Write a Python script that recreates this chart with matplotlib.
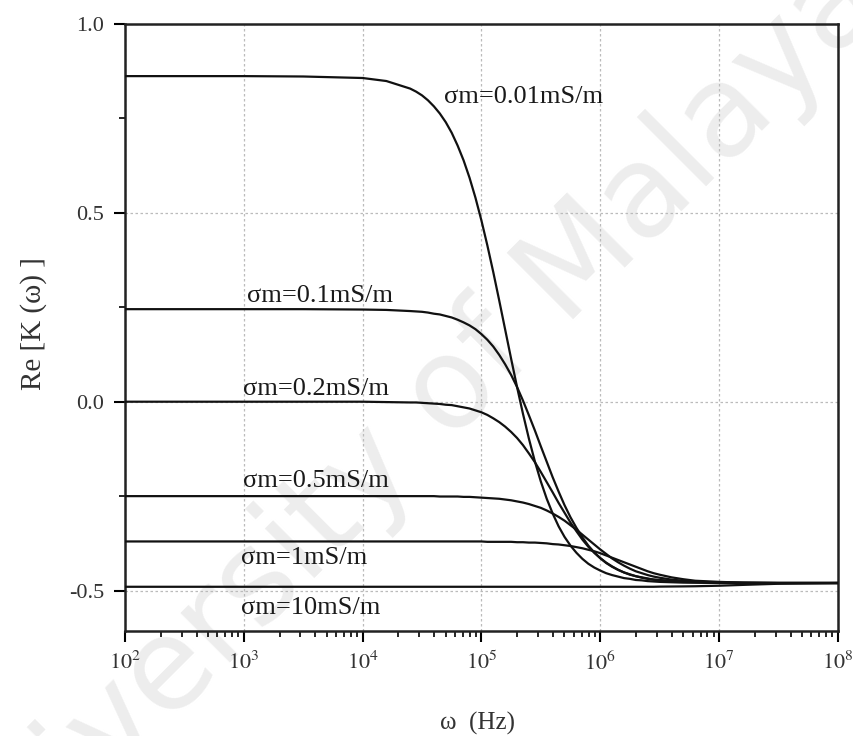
import matplotlib
matplotlib.use("Agg")
import matplotlib.pyplot as plt
from matplotlib.ticker import LogLocator, NullFormatter, MultipleLocator

plt.rcParams['font.family'] = ['Liberation Serif', 'DejaVu Serif']
plt.rcParams['mathtext.fontset'] = 'stix'

# frequency grid (Hz), given as log10 values
log_freq = [2.0, 3.0, 3.5, 4.0, 4.2,
            4.4, 4.45, 4.5, 4.55, 4.6, 4.65, 4.7, 4.75, 4.8, 4.85, 4.9, 4.95,
            5.0, 5.05, 5.1, 5.15, 5.2, 5.25, 5.3, 5.35, 5.4, 5.45, 5.5, 5.55,
            5.6, 5.65, 5.7, 5.75, 5.8, 5.85, 5.9, 5.95, 6.0, 6.05, 6.1, 6.15,
            6.2, 6.25, 6.3, 6.35, 6.4, 6.45, 6.5,
            6.6, 6.7, 6.8, 7.0, 7.2, 7.5, 8.0]
freq = [10 ** v for v in log_freq]

labels = ["σm=0.01mS/m", "σm=0.1mS/m", "σm=0.2mS/m",
          "σm=0.5mS/m", "σm=1mS/m", "σm=10mS/m"]

re_k_001 = [0.862, 0.862, 0.861, 0.857, 0.849,
            0.829, 0.821, 0.811, 0.798, 0.782, 0.763, 0.740, 0.712, 0.678, 0.639,
            0.593, 0.540, 0.480, 0.414, 0.343, 0.268, 0.191, 0.114, 0.039, -0.032,
            -0.098, -0.158, -0.211, -0.257, -0.296, -0.330, -0.358, -0.381, -0.400,
            -0.416, -0.429, -0.439, -0.447, -0.454, -0.459, -0.463, -0.467, -0.469,
            -0.472, -0.473, -0.475, -0.476, -0.477,
            -0.478, -0.479, -0.479, -0.480, -0.480, -0.480, -0.480]
re_k_01 = [0.245, 0.245, 0.245, 0.244, 0.243,
           0.240, 0.239, 0.238, 0.236, 0.233, 0.231, 0.227, 0.223, 0.217, 0.210,
           0.202, 0.192, 0.179, 0.164, 0.146, 0.124, 0.099, 0.071, 0.039, 0.003,
           -0.036, -0.076, -0.118, -0.159, -0.200, -0.238, -0.274, -0.306, -0.334,
           -0.359, -0.381, -0.399, -0.414, -0.427, -0.437, -0.445, -0.452, -0.458,
           -0.462, -0.466, -0.469, -0.471, -0.473,
           -0.475, -0.477, -0.478, -0.479, -0.480, -0.480, -0.480]
re_k_02 = [0.000, 0.000, 0.000, 0.000, -0.001,
           -0.002, -0.002, -0.003, -0.004, -0.005, -0.006, -0.008, -0.009, -0.012,
           -0.015, -0.018, -0.023, -0.028, -0.035, -0.044, -0.054, -0.066, -0.080,
           -0.096, -0.115, -0.137, -0.160, -0.186, -0.213, -0.240, -0.268, -0.294,
           -0.320, -0.343, -0.365, -0.384, -0.400, -0.414, -0.426, -0.436, -0.445,
           -0.452, -0.457, -0.462, -0.465, -0.468, -0.471, -0.472,
           -0.475, -0.477, -0.478, -0.479, -0.480, -0.480, -0.480]
re_k_05 = [-0.250, -0.250, -0.250, -0.250, -0.250,
           -0.250, -0.250, -0.250, -0.250, -0.250, -0.251, -0.251, -0.251, -0.251,
           -0.252, -0.252, -0.253, -0.254, -0.255, -0.256, -0.257, -0.259, -0.261,
           -0.264, -0.267, -0.271, -0.276, -0.281, -0.288, -0.296, -0.305, -0.315,
           -0.327, -0.339, -0.352, -0.365, -0.378, -0.391, -0.403, -0.415, -0.425,
           -0.434, -0.442, -0.449, -0.454, -0.459, -0.463, -0.466,
           -0.471, -0.474, -0.476, -0.479, -0.479, -0.480, -0.480]
re_k_1 = [-0.370, -0.370, -0.370, -0.370, -0.370,
          -0.370, -0.370, -0.370, -0.370, -0.370, -0.370, -0.370, -0.370, -0.370,
          -0.370, -0.370, -0.370, -0.370, -0.371, -0.371, -0.371, -0.371, -0.371,
          -0.372, -0.372, -0.373, -0.373, -0.374, -0.375, -0.377, -0.378, -0.380,
          -0.382, -0.385, -0.388, -0.392, -0.396, -0.401, -0.407, -0.413, -0.419,
          -0.425, -0.431, -0.437, -0.443, -0.449, -0.454, -0.458,
          -0.465, -0.470, -0.474, -0.477, -0.479, -0.480, -0.480]
re_k_10 = [-0.490, -0.490, -0.490, -0.490, -0.490,
           -0.490, -0.490, -0.490, -0.490, -0.490, -0.490, -0.490, -0.490, -0.490,
           -0.490, -0.490, -0.490, -0.490, -0.490, -0.490, -0.490, -0.490, -0.490,
           -0.490, -0.490, -0.490, -0.490, -0.490, -0.490, -0.490, -0.490, -0.490,
           -0.490, -0.490, -0.490, -0.490, -0.490, -0.490, -0.490, -0.490, -0.490,
           -0.490, -0.490, -0.490, -0.490, -0.490, -0.490, -0.4896,
           -0.4893, -0.489, -0.4886, -0.4872, -0.485, -0.482, -0.480]

series = [re_k_001, re_k_01, re_k_02, re_k_05, re_k_1, re_k_10]

# label anchor positions (frequency, value)
label_freq = [4.8e4, 1.07e3, 9.8e2, 9.8e2, 9.5e2, 9.5e2]
label_val = [0.807, 0.28, 0.034, -0.21, -0.413, -0.545]

x_ticks = [1e2, 1e3, 1e4, 1e5, 1e6, 1e7, 1e8]
x_ticklabels = [r"$10^2$", r"$10^3$", r"$10^4$", r"$10^5$", r"$10^6$", r"$10^7$", r"$10^8$"]
y_ticks = [-0.5, 0.0, 0.5, 1.0]
y_ticklabels = ["-0.5", "0.0", "0.5", "1.0"]

fig = plt.figure(figsize=(8.54, 7.36), dpi=100)
ax = fig.add_axes([0.1464, 0.1427, 0.8346, 0.8247])

# watermark (behind everything)
ax.text(0.47, 0.40, "University of Malaya", transform=fig.transFigure,
        fontsize=92, color="#ededed", rotation=45, ha="center", va="center",
        family="DejaVu Sans", zorder=0, clip_on=False)

for vals in series:
    ax.plot(freq, vals, color="#111111", lw=1.6, zorder=3)

for lab, fx, fy in zip(labels, label_freq, label_val):
    ax.text(fx, fy, lab, fontsize=19, ha="left", va="center", color="#1a1a1a", zorder=4)

ax.set_xscale("log")
ax.set_xlim(1e2, 1e8)
ax.set_ylim(-0.607, 1.0)
ax.set_xticks(x_ticks)
ax.set_xticklabels(x_ticklabels, fontsize=16, color="#333333")
ax.xaxis.set_minor_locator(LogLocator(base=10, subs=range(2, 10), numticks=20))
ax.xaxis.set_minor_formatter(NullFormatter())
ax.set_yticks(y_ticks)
ax.set_yticklabels(y_ticklabels, fontsize=16, color="#333333")
ax.yaxis.set_minor_locator(MultipleLocator(0.25))

ax.tick_params(axis="both", which="major", direction="out", length=8, width=1.5, pad=7)
ax.tick_params(axis="both", which="minor", direction="out", length=4.5, width=1.2)
ax.tick_params(top=False, right=False, which="both")

for s in ax.spines.values():
    s.set_linewidth(1.8)
    s.set_color("#222222")

ax.grid(True, which="major", linestyle=(0, (2, 2)), color="#bbbbbb", lw=0.9)

ax.set_xlabel("ω  (Hz)", fontsize=18, color="#333333")
ax.set_ylabel("Re [K (ω) ]", fontsize=21, color="#333333")
ax.xaxis.set_label_coords(0.495, -0.133)
ax.yaxis.set_label_coords(-0.109, 0.506)

fig.savefig("out.png", dpi=100)
